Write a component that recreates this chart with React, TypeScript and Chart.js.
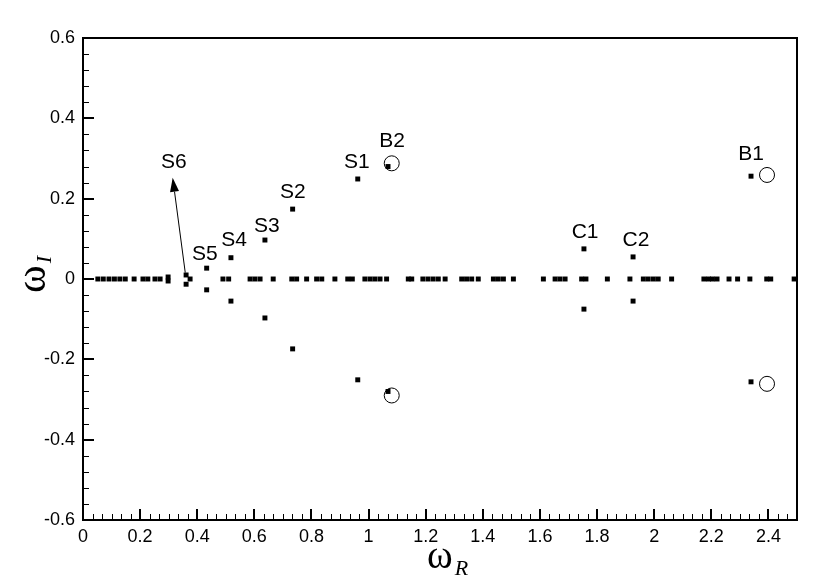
import React, { useEffect, useRef } from "react";
import { Chart, registerables } from "chart.js";

Chart.register(...registerables);

// ---------- data ----------
const xTickValues = [0, 0.2, 0.4, 0.6, 0.8, 1, 1.2, 1.4, 1.6, 1.8, 2, 2.2, 2.4];
const yTickValues = [-0.6, -0.4, -0.2, 0, 0.2, 0.4, 0.6];

// neutral modes lying on omega_I = 0
const neutralModeX = [
  0.052, 0.071, 0.091, 0.11, 0.129, 0.148, 0.179, 0.21, 0.227, 0.252, 0.27,
  0.49, 0.51, 0.585, 0.602, 0.62, 0.666, 0.731, 0.748, 0.783, 0.818, 0.836,
  0.882, 0.927, 0.943, 0.987, 1.005, 1.022, 1.04, 1.063, 1.139, 1.151, 1.19,
  1.208, 1.226, 1.244, 1.268, 1.326, 1.343, 1.361, 1.384, 1.437, 1.454, 1.472,
  1.507, 1.612, 1.653, 1.67, 1.688, 1.746, 1.761, 1.836, 1.915, 1.962, 1.979,
  1.997, 2.014, 2.061, 2.174, 2.19, 2.204, 2.22, 2.262, 2.292, 2.335, 2.394,
  2.408, 2.49,
];

// branch modes off the real axis
const branchModeX = [
  0.298, 0.298, 0.361, 0.375, 0.361, 0.433, 0.433, 0.518, 0.518, 0.637, 0.637,
  0.734, 0.734, 0.962, 0.962, 1.068, 1.068, 1.754, 1.754, 1.926, 1.926, 2.339,
  2.339,
];
const branchModeY = [
  0.005, -0.005, 0.01, 0.0, -0.013, 0.027, -0.027, 0.053, -0.055, 0.097, -0.097,
  0.174, -0.174, 0.249, -0.251, 0.28, -0.28, 0.075, -0.075, 0.055, -0.055, 0.256,
  -0.256,
];

// reference (circled) modes
const circledModeX = [1.081, 1.081, 2.395, 2.395];
const circledModeY = [0.288, -0.29, 0.259, -0.261];

// branch labels
const branchLabels = ["S6", "S5", "S4", "S3", "S2", "S1", "B2", "C1", "C2", "B1"];
const branchLabelX = [0.318, 0.427, 0.529, 0.644, 0.735, 0.959, 1.082, 1.758, 1.936, 2.339];
const branchLabelY = [0.292, 0.062, 0.097, 0.132, 0.217, 0.291, 0.344, 0.117, 0.097, 0.311];

// arrow from the S6 mode to its label
const arrowTail = { x: 0.358, y: 0.016 };
const arrowTip = { x: 0.314, y: 0.252 };

const X_MIN = 0;
const X_MAX = 2.5;
const Y_MIN = -0.6;
const Y_MAX = 0.6;
const X_MINOR = 0.2 / 6;
const Y_MINOR = 0.04;

const SANS = "'Liberation Sans', Arial, Helvetica, sans-serif";
const SERIF = "'Liberation Serif', 'Times New Roman', serif";

const decorPlugin = {
  id: "decor",
  afterDatasetsDraw(chart: any) {
    const ctx: CanvasRenderingContext2D = chart.ctx;
    const sx = chart.scales.x;
    const sy = chart.scales.y;
    const { left, right, top, bottom } = chart.chartArea;
    ctx.save();
    ctx.strokeStyle = "#000";
    ctx.fillStyle = "#000";

    // minor ticks
    ctx.lineWidth = 1;
    ctx.beginPath();
    for (let i = 0; i * X_MINOR <= X_MAX + 1e-9; i++) {
      const px = Math.round(sx.getPixelForValue(i * X_MINOR)) + 0.5;
      ctx.moveTo(px, bottom);
      ctx.lineTo(px, bottom - 6);
    }
    for (let i = 0; Y_MIN + i * Y_MINOR <= Y_MAX + 1e-9; i++) {
      const py = Math.round(sy.getPixelForValue(Y_MIN + i * Y_MINOR)) + 0.5;
      ctx.moveTo(left, py);
      ctx.lineTo(left + 6, py);
    }
    ctx.stroke();

    // major ticks
    ctx.lineWidth = 2;
    ctx.beginPath();
    xTickValues.forEach((v) => {
      const px = Math.round(sx.getPixelForValue(v));
      ctx.moveTo(px, bottom);
      ctx.lineTo(px, bottom - 11);
    });
    yTickValues.forEach((v) => {
      const py = Math.round(sy.getPixelForValue(v));
      ctx.moveTo(left, py);
      ctx.lineTo(left + 11, py);
    });
    ctx.stroke();

    // frame
    ctx.lineWidth = 2;
    ctx.strokeRect(left, top, right - left, bottom - top);

    // arrow
    const tx = sx.getPixelForValue(arrowTail.x);
    const ty = sy.getPixelForValue(arrowTail.y);
    const hx = sx.getPixelForValue(arrowTip.x);
    const hy = sy.getPixelForValue(arrowTip.y);
    const ang = Math.atan2(hy - ty, hx - tx);
    const headLen = 14;
    const headHalf = 4.5;
    const bx = hx - headLen * Math.cos(ang);
    const by = hy - headLen * Math.sin(ang);
    ctx.lineWidth = 1;
    ctx.beginPath();
    ctx.moveTo(tx, ty);
    ctx.lineTo(bx, by);
    ctx.stroke();
    ctx.beginPath();
    ctx.moveTo(hx, hy);
    ctx.lineTo(bx + headHalf * Math.sin(ang), by - headHalf * Math.cos(ang));
    ctx.lineTo(bx - headHalf * Math.sin(ang), by + headHalf * Math.cos(ang));
    ctx.closePath();
    ctx.fill();

    // branch labels
    ctx.font = `21px ${SANS}`;
    ctx.textAlign = "center";
    ctx.textBaseline = "middle";
    branchLabels.forEach((t, i) => {
      ctx.fillText(t, sx.getPixelForValue(branchLabelX[i]), sy.getPixelForValue(branchLabelY[i]));
    });

    // x axis title  ω_R
    ctx.textBaseline = "alphabetic";
    ctx.textAlign = "left";
    ctx.font = `39px ${SERIF}`;
    const wX = 427;
    ctx.fillText("ω", wX, 568);
    const wWidth = ctx.measureText("ω").width;
    ctx.font = `italic 22px ${SERIF}`;
    ctx.fillText("R", wX + wWidth + 2, 575);

    // y axis title  ω_I (rotated)
    ctx.save();
    ctx.translate(45, 293);
    ctx.rotate(-Math.PI / 2);
    ctx.font = `42px ${SERIF}`;
    ctx.textAlign = "left";
    ctx.fillText("ω", 0, 0);
    const w2 = ctx.measureText("ω").width;
    ctx.font = `italic 22px ${SERIF}`;
    ctx.fillText("I", w2 + 2, 6);
    ctx.restore();

    ctx.restore();
  },
};

export default function App() {
  const canvasRef = useRef<HTMLCanvasElement | null>(null);

  useEffect(() => {
    if (!canvasRef.current) return;
    const neutral = neutralModeX.map((x) => ({ x, y: 0 }));
    const branch = branchModeX.map((x, i) => ({ x, y: branchModeY[i] }));
    const circled = circledModeX.map((x, i) => ({ x, y: circledModeY[i] }));

    const chart = new Chart(canvasRef.current, {
      type: "scatter",
      data: {
        datasets: [
          {
            label: "circled",
            data: circled,
            pointStyle: "circle",
            pointRadius: 7.5,
            backgroundColor: "rgba(0,0,0,0)",
            borderColor: "#000",
            borderWidth: 1,
          },
          {
            label: "neutral",
            data: neutral,
            pointStyle: "rect",
            pointRadius: 3.5,
            backgroundColor: "#000",
            borderColor: "#000",
            borderWidth: 0,
          },
          {
            label: "branches",
            data: branch,
            pointStyle: "rect",
            pointRadius: 3.5,
            backgroundColor: "#000",
            borderColor: "#000",
            borderWidth: 0,
          },
        ],
      },
      options: {
        responsive: false,
        animation: false,
        layout: { padding: { left: 0, top: 38, right: 33, bottom: 0 } },
        plugins: {
          legend: { display: false },
          tooltip: { enabled: false },
          title: { display: false },
        },
        scales: {
          x: {
            type: "linear",
            min: X_MIN,
            max: X_MAX,
            grid: { display: false, drawTicks: false },
            border: { display: false },
            afterBuildTicks: (s: any) => {
              s.ticks = xTickValues.map((v) => ({ value: v }));
            },
            afterFit: (s: any) => {
              s.height = 68;
            },
            ticks: {
              autoSkip: false,
              maxRotation: 0,
              padding: 6,
              color: "#000",
              font: { family: SANS, size: 18 },
              callback: (v: any) => String(Math.round(Number(v) * 10) / 10),
            },
          },
          y: {
            type: "linear",
            min: Y_MIN,
            max: Y_MAX,
            grid: { display: false, drawTicks: false },
            border: { display: false },
            afterBuildTicks: (s: any) => {
              s.ticks = yTickValues.map((v) => ({ value: v }));
            },
            afterFit: (s: any) => {
              s.width = 83;
            },
            ticks: {
              autoSkip: false,
              padding: 8,
              color: "#000",
              font: { family: SANS, size: 18 },
              callback: (v: any) => String(Math.round(Number(v) * 10) / 10),
            },
          },
        },
      },
      plugins: [decorPlugin],
    });
    return () => chart.destroy();
  }, []);

  return (
    <div style={{ position: "fixed", left: 0, top: 0, width: 830, height: 588, background: "#fff" }}>
      <canvas ref={canvasRef} width={830} height={588} style={{ display: "block" }} />
    </div>
  );
}
